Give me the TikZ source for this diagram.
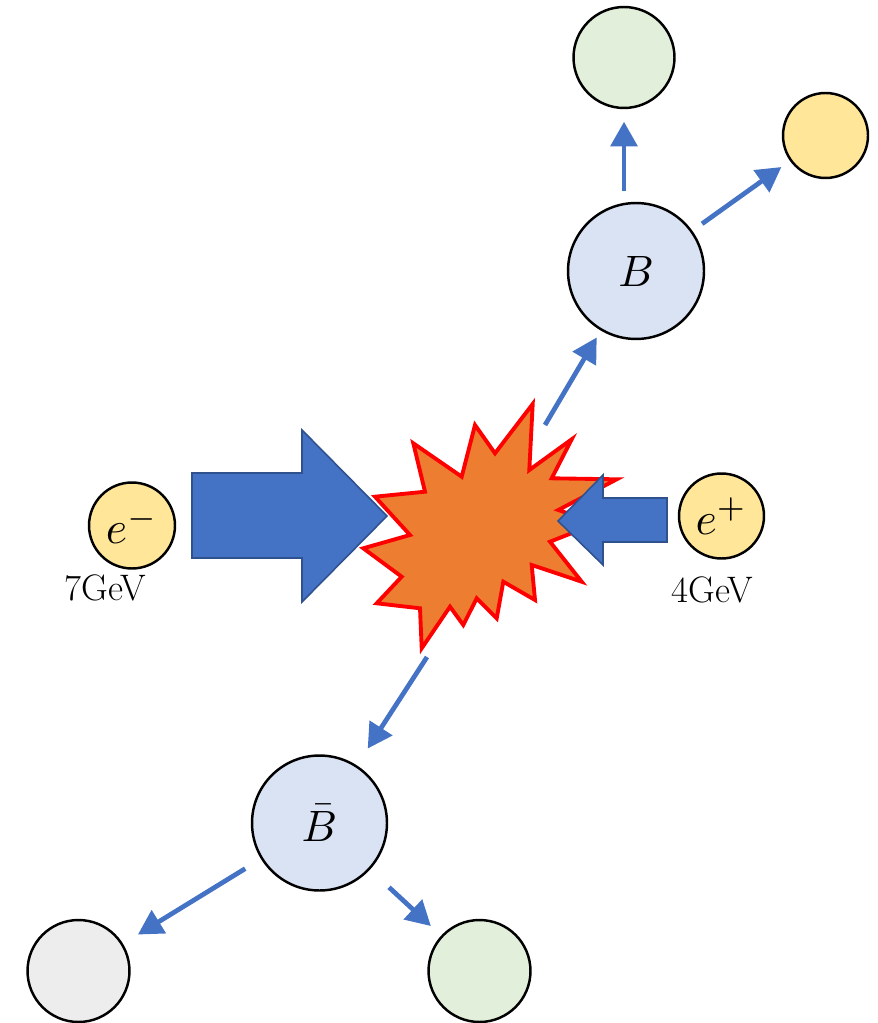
\documentclass[tikz,border=0pt]{standalone}
\usepackage{graphicx}
\usetikzlibrary{arrows.meta}
\definecolor{cblue}{HTML}{4472C4}
\definecolor{cblueb}{HTML}{2F528F}
\definecolor{corange}{HTML}{ED7D31}
\definecolor{cred}{HTML}{FF0000}
\definecolor{clb}{HTML}{DAE3F3}
\definecolor{cgreen}{HTML}{E2EFDA}
\definecolor{cyellow}{HTML}{FFE699}
\definecolor{cgray}{HTML}{EDEDED}
\begin{document}
\begin{tikzpicture}[x=0.02cm,y=-0.02cm,
  particle/.style={circle, draw=black, line width=1.4pt, inner sep=0pt},
  decay/.style={draw=cblue, line width=2.7pt, -{Triangle[length=14pt,width=15pt]}},
  beam/.style={fill=cblue, draw=cblueb, line width=0.9pt, line join=miter},
  lbl/.style={font=\fontsize{21}{25}\selectfont}]
\useasboundingbox (0,0) rectangle (877,1023);

% explosion
\draw[fill=corange, draw=cred, line width=2.2pt, line join=miter]
  (532.7,404) -- (529.3,470) -- (571.7,439.3) -- (551.7,478.3) -- (616.7,479.3)
  -- (558.3,510) -- (596.7,523.3) -- (550,541.7) -- (581.7,581.7) -- (531.7,565)
  -- (535,600) -- (503.3,581.7) -- (496.7,618.3) -- (476.7,598.3) -- (463.3,625)
  -- (450,606.7) -- (421.7,648.3) -- (420,608.3) -- (376.7,603.3) -- (401.7,576.7)
  -- (363.3,548.3) -- (410,535) -- (375,496.7) -- (425,491.7) -- (413.3,443.3)
  -- (461.7,476.7) -- (475,425) -- (495,453.3) -- cycle;

% beams
\draw[beam] (192,473) -- (302,473) -- (302,430) -- (387,516) -- (302,602)
  -- (302,558) -- (192,558) -- cycle;
\draw[beam] (667,498) -- (603,498) -- (603,475) -- (558,521) -- (603,565)
  -- (603,542) -- (667,542) -- cycle;

% particles
\node[particle, fill=cgreen, minimum size=2.02cm] (d1) at (624,57.5) {};
\node[particle, fill=cyellow, minimum size=1.70cm] (d2) at (825.5,135.5) {};
\node[particle, fill=clb, minimum size=2.72cm] (B) at (636,271) {\scalebox{2.5}{$B$}};
\node[particle, fill=clb, minimum size=2.70cm] (Bb) at (319.5,823) {\scalebox{2.5}{$\bar{B}$}};
\node[particle, fill=cgray, minimum size=2.04cm] (d3) at (78.5,971) {};
\node[particle, fill=cgreen, minimum size=2.04cm] (d4) at (479.5,971) {};
\node[particle, fill=cyellow, minimum size=1.72cm] (em) at (132,525.5) {\scalebox{2.6}{$e^-$}};
\node[particle, fill=cyellow, minimum size=1.70cm] (ep) at (721.5,516) {\scalebox{2.6}{$e^+$}};
\node[lbl] (E1) at (105,588) {7GeV};
\node[lbl] (E2) at (712,590) {4GeV};

% decay arrows
\coordinate (s1) at (545,425);
\coordinate (s2) at (427,657);
\draw[decay, shorten >=0.16cm] (s1) -- (B);
\draw[decay, shorten >=0.4cm] (s2) -- (Bb);
\draw[decay, shorten <=0.21cm, shorten >=0.25cm] (B.north -| d1.south) -- (d1.south);
\draw[decay, shorten <=0.24cm, shorten >=0.21cm] (B) -- (d2);
\draw[decay, shorten <=0.37cm, shorten >=0.35cm] (Bb) -- (d3);
\draw[decay, shorten <=0.52cm, shorten >=0.28cm] (Bb) -- (d4);
\end{tikzpicture}
\end{document}
